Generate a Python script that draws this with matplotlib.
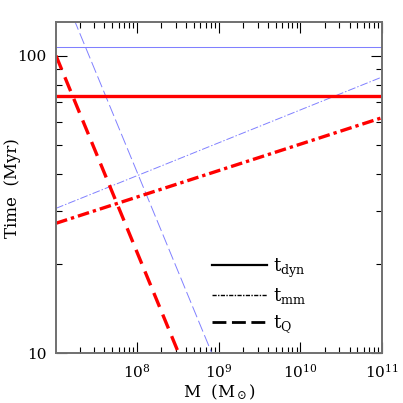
import matplotlib
matplotlib.use('Agg')
import matplotlib.pyplot as plt
from matplotlib.ticker import LogLocator, NullFormatter, FixedLocator, FixedFormatter

plt.rcParams['font.family'] = 'DejaVu Serif'
plt.rcParams['mathtext.fontset'] = 'dejavuserif'

# mass range (Msun) and times (Myr)
m_ends = [1.03e7, 1e11]
tdyn_red = [73.2, 73.2]
tdyn_blue = [106.7, 106.7]
tmm_red = [27.35, 61.9]
tmm_blue = [30.7, 84.8]
tq_red_m = [1.03e7, 3.26e8]
tq_red_t = [100, 10]
tq_blue_m = [1.7e7, 8.3e8]
tq_blue_t = [133, 10]

blue = '#8080ff'
red = '#ff0000'

fig = plt.figure(figsize=(4.03, 4.03), dpi=100)
ax = fig.add_axes([0.139, 0.1233, 0.809, 0.8214])

ax.plot(m_ends, tdyn_blue, color=blue, lw=0.75)
ax.plot(m_ends, tmm_blue, color=blue, lw=0.7, dashes=(8, 2, 1.5, 2))
ax.plot(tq_blue_m, tq_blue_t, color=blue, lw=0.7, dashes=(12, 4))

ax.plot(m_ends, tdyn_red, color=red, lw=2.4)
ax.plot(m_ends, tmm_red, color=red, lw=2.4, dashes=(3.5, 1.2, 1, 1.2))
ax.plot(tq_red_m, tq_red_t, color=red, lw=2.4, dashes=(4.5, 2.5))

ax.set_xscale('log')
ax.set_yscale('log')
ax.set_xlim(1.03e7, 1e11)
ax.set_ylim(10, 129.5)

ax.xaxis.set_major_locator(FixedLocator([1e8, 1e9, 1e10, 1e11]))
ax.xaxis.set_major_formatter(FixedFormatter(['$10^8$', '$10^9$', '$10^{10}$', '$10^{11}$']))
ax.xaxis.set_minor_locator(LogLocator(base=10, subs=range(2, 10), numticks=20))
ax.xaxis.set_minor_formatter(NullFormatter())
ax.yaxis.set_major_locator(FixedLocator([10, 100]))
ax.yaxis.set_major_formatter(FixedFormatter(['10', '100']))
ax.yaxis.set_minor_locator(LogLocator(base=10, subs=range(2, 10), numticks=20))
ax.yaxis.set_minor_formatter(NullFormatter())

ax.tick_params(which='both', direction='in', top=True, right=True, labelsize=11, color='black')
ax.tick_params(which='major', length=8, width=0.8, pad=7)
ax.tick_params(which='minor', length=4.5, width=0.8)
for s in ax.spines.values():
    s.set_color('#707070')
    s.set_linewidth(1.4)

ax.set_xlabel(r'M  (M$_\odot$)', fontsize=12, labelpad=1)
ax.set_ylabel('Time  (Myr)', fontsize=12, va='center')
ax.yaxis.set_label_coords(-0.132, 0.5)

# legend (black samples)
ax.plot([], [], color='black', lw=1.6, label=r'$\mathrm{t_{dyn}}$')
ax.plot([], [], color='black', lw=1.0, dashes=(3, 1, 1, 1), label=r'$\mathrm{t_{mm}}$')
ax.plot([], [], color='black', lw=2.0, dashes=(5, 2), label=r'$\mathrm{t_Q}$')
h, l = ax.get_legend_handles_labels()
ax.legend(h[-3:], l[-3:], loc='upper left', bbox_to_anchor=(0.479, 0.293), frameon=False,
          borderpad=0, borderaxespad=0, fontsize=13, handlelength=3.05,
          labelspacing=0.38, handletextpad=0.3)

fig.savefig('out.png', dpi=100)
